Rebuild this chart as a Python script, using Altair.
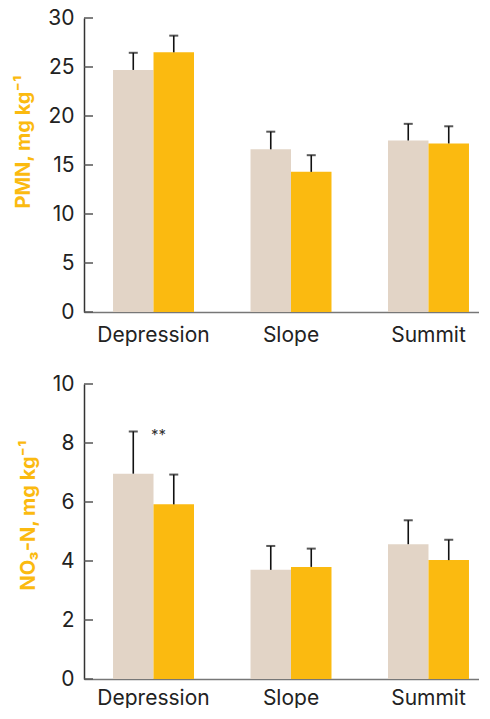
import altair as alt
import pandas as pd

sites = ["Depression", "Slope", "Summit"]
groups = ["Group A", "Group B"]
colors = ["#E2D4C6", "#FBBA10"]

pmn_a = [24.7, 16.6, 17.5]
pmn_b = [26.5, 14.3, 17.2]
pmn_err_a = [1.75, 1.8, 1.7]
pmn_err_b = [1.7, 1.7, 1.75]
pmn_ticks = [0, 5, 10, 15, 20, 25, 30]

no3_a = [6.96, 3.70, 4.57]
no3_b = [5.92, 3.80, 4.03]
no3_err_a = [1.43, 0.81, 0.81]
no3_err_b = [1.01, 0.62, 0.69]
no3_ticks = [0, 2, 4, 6, 8, 10]

annot_site = ["Depression"]
annot_y = [8.5]
annot_text = ["**"]

FONT = "Inter"


def panel(va, vb, ea, eb, ymax, ticks, title, title_y, height, xpad, annot=None):
    df = pd.DataFrame({
        "site": sites * 2,
        "group": [groups[0]] * 3 + [groups[1]] * 3,
        "value": va + vb,
        "err": ea + eb,
    })
    df["upper"] = df["value"] + df["err"]
    tdf = pd.DataFrame({"t": ticks})

    x = alt.X("site:N", sort=sites,
              scale=alt.Scale(paddingInner=0.411, paddingOuter=0.182, align=0.58),
              axis=alt.Axis(title=None, labelAngle=0, ticks=False, domainColor="#777",
                            domainWidth=1.5, labelPadding=xpad, labelFontSize=21,
                            labelColor="#222", labelFont=FONT))
    xo = alt.XOffset("group:N", sort=groups, scale=alt.Scale(paddingInner=0, paddingOuter=0))
    ys = alt.Scale(domain=[0, ymax], nice=False, zero=True)
    yax = alt.Axis(values=ticks, title=title, ticks=False, grid=False, domainColor="#333",
                   domainWidth=1.5, labelPadding=10, labelFontSize=21, labelColor="#222",
                   labelFont=FONT, titleFont=FONT, titleColor="#FBBA10", titleFontSize=20,
                   titleFontWeight="bold", titlePadding=14, titleY=title_y)

    bars = alt.Chart(df).mark_bar().encode(
        x=x, xOffset=xo,
        y=alt.Y("value:Q", scale=ys, axis=yax),
        color=alt.Color("group:N", scale=alt.Scale(domain=groups, range=colors), legend=None),
    )
    rule = alt.Chart(df).mark_rule(color="#111", strokeWidth=1.6).encode(
        x=x, xOffset=xo,
        y=alt.Y("value:Q", scale=ys, axis=yax), y2="upper:Q",
    )
    cap = alt.Chart(df).mark_tick(orient="horizontal", size=9, thickness=2, color="#111").encode(
        x=x, xOffset=xo,
        y=alt.Y("upper:Q", scale=ys, axis=yax),
    )
    tk = alt.Chart(tdf).mark_rule(color="#555", strokeWidth=1.5).encode(
        x=alt.value(0), x2=alt.value(9),
        y=alt.Y("t:Q", scale=ys, axis=yax),
    )
    layers = [bars, rule, cap, tk]
    if annot is not None:
        adf = pd.DataFrame(annot)
        txt = alt.Chart(adf).mark_text(fontSize=15, color="#333", baseline="top", dx=5,
                                       font=FONT).encode(
            x=x, y=alt.Y("y:Q", scale=ys, axis=yax), text="text:N")
        layers.append(txt)
    return alt.layer(*layers).properties(width=406, height=height)


top = panel(pmn_a, pmn_b, pmn_err_a, pmn_err_b, 30, pmn_ticks, "PMN, mg kg⁻¹", 123.5,
            294, 12)
bottom = panel(no3_a, no3_b, no3_err_a, no3_err_b, 10, no3_ticks, "NO₃-N, mg kg⁻¹", 131,
               295, 8, annot={"site": annot_site, "y": annot_y, "text": annot_text})

chart = alt.vconcat(top, bottom, spacing=28).properties(
    padding={"left": 5, "top": -1, "right": -11, "bottom": 0}
).configure(font=FONT).configure_view(stroke=None)

chart.save("out.html", embed_options={"renderer": "svg", "actions": False})
